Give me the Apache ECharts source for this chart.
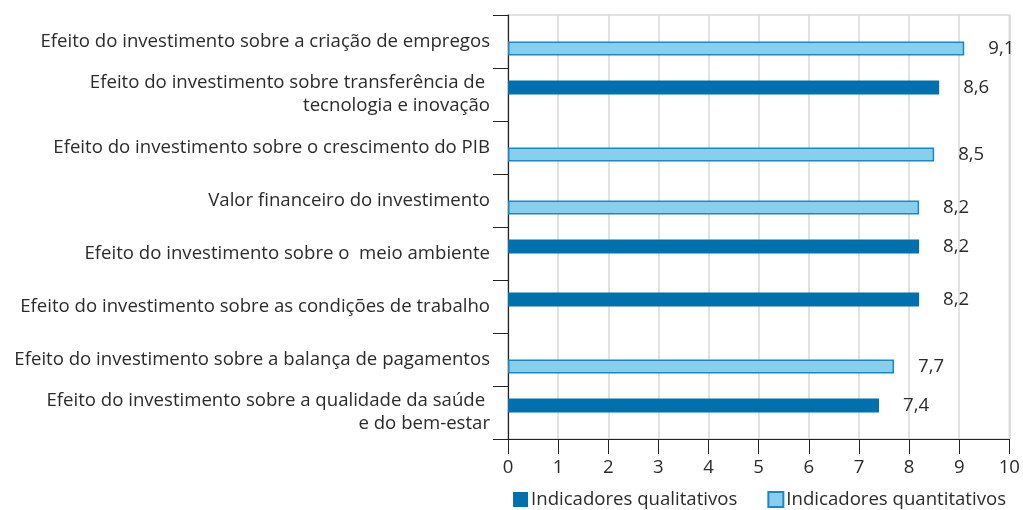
<!DOCTYPE html>
<html>
<head>
<meta charset="utf-8">
<script src="https://cdn.jsdelivr.net/npm/echarts@6/dist/echarts.min.js"></script>
<style>html,body{margin:0;padding:0;background:#fff;}#c{width:1023px;height:510px;}</style>
</head>
<body>
<div id="c"></div>
<script>
const categories = [
  'Efeito do investimento sobre a criação de empregos',
  'Efeito do investimento sobre transferência de \ntecnologia e inovação',
  'Efeito do investimento sobre o crescimento do PIB',
  'Valor financeiro do investimento',
  'Efeito do investimento sobre o  meio ambiente',
  'Efeito do investimento sobre as condições de trabalho',
  'Efeito do investimento sobre a balança de pagamentos',
  'Efeito do investimento sobre a qualidade da saúde \ne do bem-estar'
];
const qualitativos = [null, 8.6, null, null, 8.2, 8.2, null, 7.4];
const quantitativos = [9.1, null, 8.5, 8.2, null, null, 7.7, null];
const xTicks = [0, 1, 2, 3, 4, 5, 6, 7, 8, 9, 10];
const seriesNames = ['Indicadores qualitativos', 'Indicadores quantitativos'];

const FONT = '"Open Sans", "Noto Sans", sans-serif';
const TXT = '#2b2b2b';
const FS = 18.6;
const labelCfg = {
  show: true, position: 'right', distance: 24,
  color: TXT, fontSize: FS, fontFamily: FONT,
  formatter: p => String(p.value).replace('.', ',')
};

const chart = echarts.init(document.getElementById('c'));
chart.setOption({
  animation: false,
  textStyle: { fontFamily: FONT },
  grid: { left: 508, right: 10, top: 15, bottom: 71, show: true, borderColor: '#d9d9d9', borderWidth: 1.5 },
  legend: {
    bottom: -4, right: 12, itemWidth: 15, itemHeight: 15, itemGap: 30,
    icon: 'rect',
    textStyle: { color: TXT, fontSize: FS, fontFamily: FONT, padding: [0, 0, 0, -2] },
    data: seriesNames
  },
  xAxis: {
    type: 'value', min: xTicks[0], max: xTicks[xTicks.length - 1], interval: 1,
    axisLine: { show: true, lineStyle: { color: '#222', width: 1.2 } },
    axisTick: { show: true, length: 15, lineStyle: { color: '#222' } },
    axisLabel: { color: TXT, fontSize: FS, fontFamily: FONT, margin: 19 },
    splitLine: { show: true, lineStyle: { color: '#d9d9d9', width: 1.5 } }
  },
  yAxis: {
    type: 'category', data: categories, inverse: true,
    axisLine: { show: true, lineStyle: { color: '#222', width: 1.2 } },
    axisTick: { show: true, length: 15, lineStyle: { color: '#222' } },
    axisLabel: { color: TXT, fontSize: FS, fontFamily: FONT, margin: 18, lineHeight: 23, align: 'right' },
    splitLine: { show: false }
  },
  series: [
    {
      name: seriesNames[0], type: 'bar', data: qualitativos,
      barWidth: 14, barGap: '0%',
      itemStyle: { color: '#0071ae' },
      label: labelCfg
    },
    {
      name: seriesNames[1], type: 'bar', data: quantitativos,
      barWidth: 14, barGap: '0%',
      itemStyle: { color: '#88ceed', borderColor: '#1d86c4', borderWidth: 1.5 },
      label: labelCfg
    }
  ]
});
</script>
</body>
</html>
